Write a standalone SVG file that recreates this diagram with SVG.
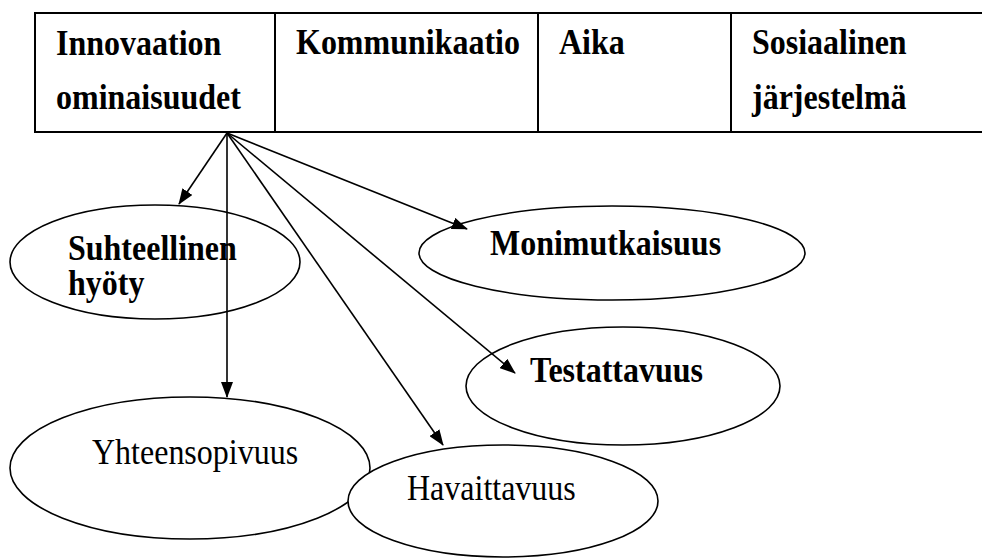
<svg xmlns="http://www.w3.org/2000/svg" width="982" height="560" viewBox="0 0 982 560">
  <style>
    .b { font-family: "Liberation Serif", "Times New Roman", serif; font-size: 32px; font-weight: bold; fill: #000; }
    .r { font-family: "Liberation Serif", "Times New Roman", serif; font-size: 32px; font-weight: normal; fill: #000; }
    .tl { stroke: #000; stroke-width: 2; fill: none; }
    .el { stroke: #000; stroke-width: 1.6; fill: #fff; }
    .cn { stroke: #000; stroke-width: 1.6; fill: none; marker-end: url(#ah); }
  </style>
  <defs>
    <marker id="ah" markerWidth="16" markerHeight="12" refX="15" refY="6" orient="auto" markerUnits="userSpaceOnUse">
      <path d="M0,0 L16,6 L0,12 Z" fill="#000"/>
    </marker>
  </defs>
  <rect width="982" height="560" fill="#fff"/>
  <g id="table">
    <line class="tl" x1="35" y1="13" x2="982" y2="13"/>
    <line class="tl" x1="35" y1="132" x2="982" y2="132"/>
    <line class="tl" x1="35" y1="12" x2="35" y2="133"/>
    <line class="tl" x1="275" y1="12" x2="275" y2="133"/>
    <line class="tl" x1="538" y1="12" x2="538" y2="133"/>
    <line class="tl" x1="731" y1="12" x2="731" y2="133"/>
  </g>
  <g id="cell-innovaation">
    <text class="b" transform="translate(56,55) scale(1,1.1)">Innovaation</text>
    <text class="b" transform="translate(56,109) scale(1,1.1)">ominaisuudet</text>
  </g>
  <g id="cell-kommunikaatio">
    <text class="b" transform="translate(296,54) scale(1,1.1)">Kommunikaatio</text>
  </g>
  <g id="cell-aika">
    <text class="b" transform="translate(559,54) scale(1,1.1)">Aika</text>
  </g>
  <g id="cell-sosiaalinen">
    <text class="b" transform="translate(752,54) scale(1,1.1)">Sosiaalinen</text>
    <text class="b" transform="translate(752,109) scale(1,1.1)">järjestelmä</text>
  </g>
  <g id="node-suhteellinen">
    <ellipse class="el" cx="155" cy="262" rx="145" ry="57"/>
    <text class="b" transform="translate(68,260) scale(1,1.1)">Suhteellinen</text>
    <text class="b" transform="translate(68,295) scale(1,1.1)">hyöty</text>
  </g>
  <g id="node-monimutkaisuus">
    <ellipse class="el" cx="612" cy="253" rx="193" ry="47"/>
    <text class="b" transform="translate(490,255) scale(1,1.1)">Monimutkaisuus</text>
  </g>
  <g id="node-testattavuus">
    <ellipse class="el" cx="623" cy="386" rx="157" ry="59"/>
    <text class="b" transform="translate(530,382) scale(1,1.1)">Testattavuus</text>
  </g>
  <g id="node-yhteensopivuus">
    <ellipse class="el" cx="190" cy="468" rx="180" ry="71"/>
    <text class="r" transform="translate(92,464) scale(1,1.1)">Yhteensopivuus</text>
  </g>
  <g id="node-havaittavuus">
    <ellipse class="el" cx="503" cy="501" rx="155" ry="56"/>
    <text class="r" transform="translate(407,500) scale(1,1.1)">Havaittavuus</text>
  </g>
  <g id="connectors">
    <line class="cn" x1="227" y1="133" x2="179" y2="204"/>
    <line class="cn" x1="227" y1="133" x2="227" y2="397"/>
    <line class="cn" x1="227" y1="133" x2="443" y2="445"/>
    <line class="cn" x1="227" y1="133" x2="515" y2="373"/>
    <line class="cn" x1="227" y1="133" x2="467" y2="229"/>
  </g>
</svg>
